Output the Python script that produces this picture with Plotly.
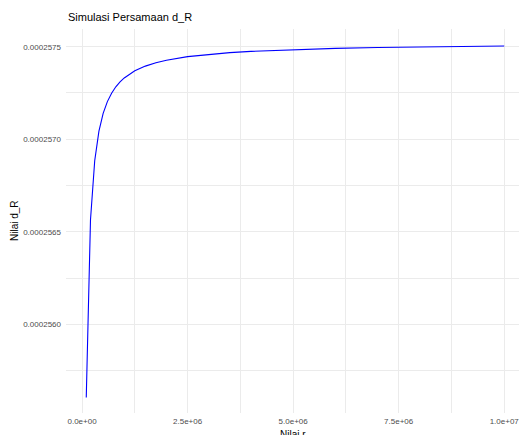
import plotly.graph_objects as go

# Simulated values of d_R against r
r_values = [1e5, 2e5, 3e5, 4e5, 5e5, 6e5, 7e5, 8e5, 9e5, 1e6,
            1.25e6, 1.5e6, 1.75e6, 2e6, 2.5e6, 3e6, 3.5e6, 4e6,
            5e6, 6e6, 7e6, 8e6, 9e6, 1e7]
d_r_values = [2.556050e-4, 2.565640e-4, 2.568837e-4, 2.570435e-4, 2.571394e-4,
              2.572033e-4, 2.572490e-4, 2.572833e-4, 2.573099e-4, 2.573312e-4,
              2.573696e-4, 2.573951e-4, 2.574134e-4, 2.574271e-4, 2.574463e-4,
              2.574591e-4, 2.574682e-4, 2.574750e-4, 2.574846e-4, 2.574910e-4,
              2.574956e-4, 2.574990e-4, 2.575017e-4, 2.575038e-4]

x_tickvals = [0, 2.5e6, 5e6, 7.5e6, 1e7]
x_ticktext = ["0.0e+00", "2.5e+06", "5.0e+06", "7.5e+06", "1.0e+07"]
y_tickvals = [2.560e-4, 2.565e-4, 2.570e-4, 2.575e-4]
y_ticktext = ["0.0002560", "0.0002565", "0.0002570", "0.0002575"]

FONT = "Liberation Sans, Arial, Helvetica, sans-serif"
GRID = "#ebebeb"

fig = go.Figure()
fig.add_trace(go.Scatter(
    x=r_values, y=d_r_values, mode="lines",
    line=dict(color="#0000ff", width=1.1),
    showlegend=False, hoverinfo="skip",
))

fig.update_layout(
    width=519, height=435,
    margin=dict(l=66, r=0, t=29, b=22),
    paper_bgcolor="white", plot_bgcolor="white",
    font=dict(family=FONT, size=8, color="#4d4d4d"),
    xaxis=dict(
        range=[-0.38e6, 10.35e6],
        tickmode="array", tickvals=x_tickvals, ticktext=x_ticktext,
        showgrid=True, gridcolor=GRID, gridwidth=1,
        minor=dict(dtick=1.25e6, tick0=0, showgrid=True, gridcolor=GRID, gridwidth=0.6),
        zeroline=False, showline=False, ticks="",
        ticklabeloverflow="allow", ticklabelstandoff=2,
        tickfont=dict(family=FONT, size=8, color="#4d4d4d"),
    ),
    yaxis=dict(
        range=[2.555207e-4, 2.575957e-4],
        tickmode="array", tickvals=y_tickvals, ticktext=y_ticktext,
        showgrid=True, gridcolor=GRID, gridwidth=1,
        minor=dict(dtick=2.5e-7, tick0=2.56e-4, showgrid=True, gridcolor=GRID, gridwidth=0.6),
        zeroline=False, showline=False, ticks="",
        ticklabelstandoff=4,
        tickfont=dict(family=FONT, size=8, color="#4d4d4d"),
    ),
    annotations=[
        dict(text="Simulasi Persamaan d_R", xref="paper", yref="paper",
             x=0, y=1, xanchor="left", yanchor="bottom", yshift=4,
             showarrow=False, font=dict(family=FONT, size=11, color="black")),
        dict(text="Nilai r", xref="paper", yref="paper",
             x=0.5, y=0, xanchor="center", yanchor="top", yshift=-14,
             showarrow=False, font=dict(family=FONT, size=10, color="black")),
        dict(text="Nilai d_R", xref="paper", yref="paper",
             x=0, y=0.5, xanchor="center", yanchor="middle", xshift=-52,
             textangle=-90,
             showarrow=False, font=dict(family=FONT, size=10, color="black")),
    ],
)

fig.write_html("out.html")
